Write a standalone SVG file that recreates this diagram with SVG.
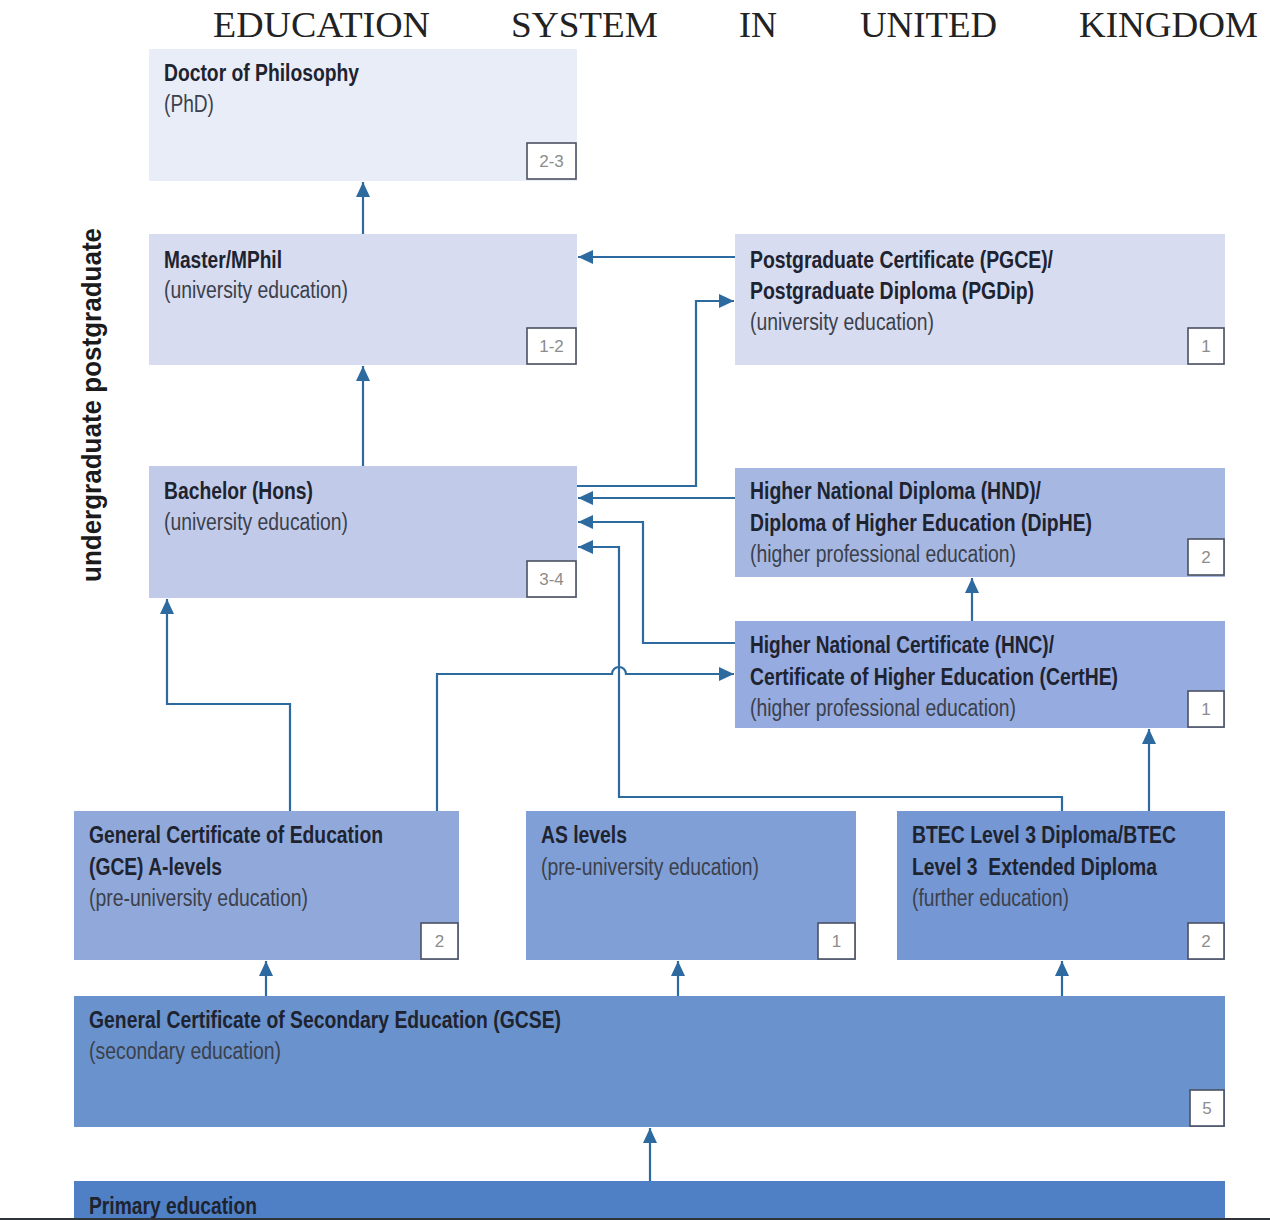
<svg xmlns="http://www.w3.org/2000/svg" width="1270" height="1220" viewBox="0 0 1270 1220">
<defs>
<marker id="ah" markerUnits="userSpaceOnUse" markerWidth="18" markerHeight="16" refX="15" refY="7" orient="auto">
<path d="M0,0 L15,7 L0,14 z" fill="#2d6aa0"/>
</marker>
<style>
.t{font-family:"Liberation Serif","Times New Roman",serif;font-size:36px;fill:#222}
.b{font-family:"Liberation Sans",Arial,sans-serif;font-size:23px;font-weight:bold;fill:#1e2330}
.r{font-family:"Liberation Sans",Arial,sans-serif;font-size:23px;fill:#3b404b}
.bd{fill:#fff;stroke:#4b5160;stroke-width:1.6}
.bt{font-family:"Liberation Sans",Arial,sans-serif;font-size:17px;fill:#8c8c8c;text-anchor:middle}
.c{fill:none;stroke:#2d6aa0;stroke-width:2.2}
.v{font-family:"Liberation Sans",Arial,sans-serif;font-size:27px;font-weight:bold;fill:#1b1b1b}
</style>
</defs>
<rect width="1270" height="1220" fill="#fff"/>
<g id="title">
<text class="t" x="213" y="37" textLength="217" lengthAdjust="spacingAndGlyphs">EDUCATION</text>
<text class="t" x="511" y="37" textLength="147" lengthAdjust="spacingAndGlyphs">SYSTEM</text>
<text class="t" x="739" y="37" textLength="38" lengthAdjust="spacingAndGlyphs">IN</text>
<text class="t" x="860" y="37" textLength="137" lengthAdjust="spacingAndGlyphs">UNITED</text>
<text class="t" x="1079" y="37" textLength="179" lengthAdjust="spacingAndGlyphs">KINGDOM</text>
</g>
<g id="side-label">
<text class="v" transform="translate(101,582) rotate(-90)" textLength="354" lengthAdjust="spacingAndGlyphs">undergraduate  postgraduate</text>
</g>
<g id="phd">
<rect x="149" y="49" width="428" height="132" fill="#e9edf7"/>
<text class="b" x="164" y="81" textLength="195" lengthAdjust="spacingAndGlyphs">Doctor of Philosophy</text>
<text class="r" x="164" y="112" textLength="50" lengthAdjust="spacingAndGlyphs">(PhD)</text>
<rect class="bd" x="527" y="143" width="49" height="36"/>
<text class="bt" x="551.5" y="167">2-3</text>
</g>
<g id="master">
<rect x="149" y="234" width="428" height="131" fill="#d7dcf0"/>
<text class="b" x="164" y="268" textLength="118" lengthAdjust="spacingAndGlyphs">Master/MPhil</text>
<text class="r" x="164" y="298" textLength="184" lengthAdjust="spacingAndGlyphs">(university education)</text>
<rect class="bd" x="527" y="328" width="49" height="36"/>
<text class="bt" x="551.5" y="352">1-2</text>
</g>
<g id="pgce">
<rect x="735" y="234" width="490" height="131" fill="#d7dcf0"/>
<text class="b" x="750" y="268" textLength="303" lengthAdjust="spacingAndGlyphs">Postgraduate Certificate (PGCE)/</text>
<text class="b" x="750" y="299" textLength="284" lengthAdjust="spacingAndGlyphs">Postgraduate Diploma (PGDip)</text>
<text class="r" x="750" y="330" textLength="184" lengthAdjust="spacingAndGlyphs">(university education)</text>
<rect class="bd" x="1188" y="328" width="36" height="36"/>
<text class="bt" x="1206" y="352">1</text>
</g>
<g id="bachelor">
<rect x="149" y="466" width="428" height="132" fill="#c1cbe9"/>
<text class="b" x="164" y="499" textLength="149" lengthAdjust="spacingAndGlyphs">Bachelor (Hons)</text>
<text class="r" x="164" y="530" textLength="184" lengthAdjust="spacingAndGlyphs">(university education)</text>
<rect class="bd" x="527" y="561" width="49" height="36"/>
<text class="bt" x="551.5" y="585">3-4</text>
</g>
<g id="hnd">
<rect x="735" y="468" width="490" height="109" fill="#a6b8e2"/>
<text class="b" x="750" y="499" textLength="291" lengthAdjust="spacingAndGlyphs">Higher National Diploma (HND)/</text>
<text class="b" x="750" y="531" textLength="342" lengthAdjust="spacingAndGlyphs">Diploma of Higher Education (DipHE)</text>
<text class="r" x="750" y="562" textLength="266" lengthAdjust="spacingAndGlyphs">(higher professional education)</text>
<rect class="bd" x="1188" y="539" width="36" height="36"/>
<text class="bt" x="1206" y="563">2</text>
</g>
<g id="hnc">
<rect x="735" y="621" width="490" height="107" fill="#96abdf"/>
<text class="b" x="750" y="653" textLength="304" lengthAdjust="spacingAndGlyphs">Higher National Certificate (HNC)/</text>
<text class="b" x="750" y="685" textLength="368" lengthAdjust="spacingAndGlyphs">Certificate of Higher Education (CertHE)</text>
<text class="r" x="750" y="716" textLength="266" lengthAdjust="spacingAndGlyphs">(higher professional education)</text>
<rect class="bd" x="1188" y="691" width="36" height="36"/>
<text class="bt" x="1206" y="715">1</text>
</g>
<g id="gce">
<rect x="74" y="811" width="385" height="149" fill="#91a9da"/>
<text class="b" x="89" y="843" textLength="294" lengthAdjust="spacingAndGlyphs">General Certificate of Education</text>
<text class="b" x="89" y="875" textLength="133" lengthAdjust="spacingAndGlyphs">(GCE) A-levels</text>
<text class="r" x="89" y="906" textLength="219" lengthAdjust="spacingAndGlyphs">(pre-university education)</text>
<rect class="bd" x="421" y="923" width="37" height="36"/>
<text class="bt" x="439.5" y="947">2</text>
</g>
<g id="as-levels">
<rect x="526" y="811" width="330" height="149" fill="#809fd6"/>
<text class="b" x="541" y="843" textLength="86" lengthAdjust="spacingAndGlyphs">AS levels</text>
<text class="r" x="541" y="875" textLength="218" lengthAdjust="spacingAndGlyphs">(pre-university education)</text>
<rect class="bd" x="818" y="923" width="37" height="36"/>
<text class="bt" x="836.5" y="947">1</text>
</g>
<g id="btec">
<rect x="897" y="811" width="328" height="149" fill="#7597d3"/>
<text class="b" x="912" y="843" textLength="264" lengthAdjust="spacingAndGlyphs">BTEC Level 3 Diploma/BTEC</text>
<text class="b" x="912" y="875" textLength="245" lengthAdjust="spacingAndGlyphs" xml:space="preserve">Level 3  Extended Diploma</text>
<text class="r" x="912" y="906" textLength="157" lengthAdjust="spacingAndGlyphs">(further education)</text>
<rect class="bd" x="1188" y="923" width="36" height="36"/>
<text class="bt" x="1206" y="947">2</text>
</g>
<g id="gcse">
<rect x="74" y="996" width="1151" height="131" fill="#6a92cd"/>
<text class="b" x="89" y="1028" textLength="472" lengthAdjust="spacingAndGlyphs">General Certificate of Secondary Education (GCSE)</text>
<text class="r" x="89" y="1059" textLength="192" lengthAdjust="spacingAndGlyphs">(secondary education)</text>
<rect class="bd" x="1190" y="1090" width="34" height="36"/>
<text class="bt" x="1207" y="1114">5</text>
</g>
<g id="primary">
<rect x="74" y="1181" width="1151" height="39" fill="#4f80c5"/>
<text class="b" x="89" y="1214" textLength="168" lengthAdjust="spacingAndGlyphs">Primary education</text>
</g>
<g id="connectors">
<path class="c" marker-end="url(#ah)" d="M363,234 V182"/>
<path class="c" marker-end="url(#ah)" d="M363,466 V366"/>
<path class="c" marker-end="url(#ah)" d="M735,257 H578"/>
<path class="c" marker-end="url(#ah)" d="M577,486 H696 V301 H734"/>
<path class="c" marker-end="url(#ah)" d="M735,498 H578"/>
<path class="c" marker-end="url(#ah)" d="M735,643 H643 V522 H578"/>
<path class="c" marker-end="url(#ah)" d="M1062,811 V797 H619 V547 H578"/>
<path class="c" marker-end="url(#ah)" d="M437,811 V674 H612 A7,7 0 0 1 626,674 H734"/>
<path class="c" marker-end="url(#ah)" d="M290,811 V704 H167 V599"/>
<path class="c" marker-end="url(#ah)" d="M972,621 V578"/>
<path class="c" marker-end="url(#ah)" d="M1149,811 V729"/>
<path class="c" marker-end="url(#ah)" d="M266,996 V961"/>
<path class="c" marker-end="url(#ah)" d="M678,996 V961"/>
<path class="c" marker-end="url(#ah)" d="M1062,996 V961"/>
<path class="c" marker-end="url(#ah)" d="M650,1181 V1128"/>
</g>
<rect x="0" y="1218" width="1270" height="2" fill="#2f333a"/>
</svg>
